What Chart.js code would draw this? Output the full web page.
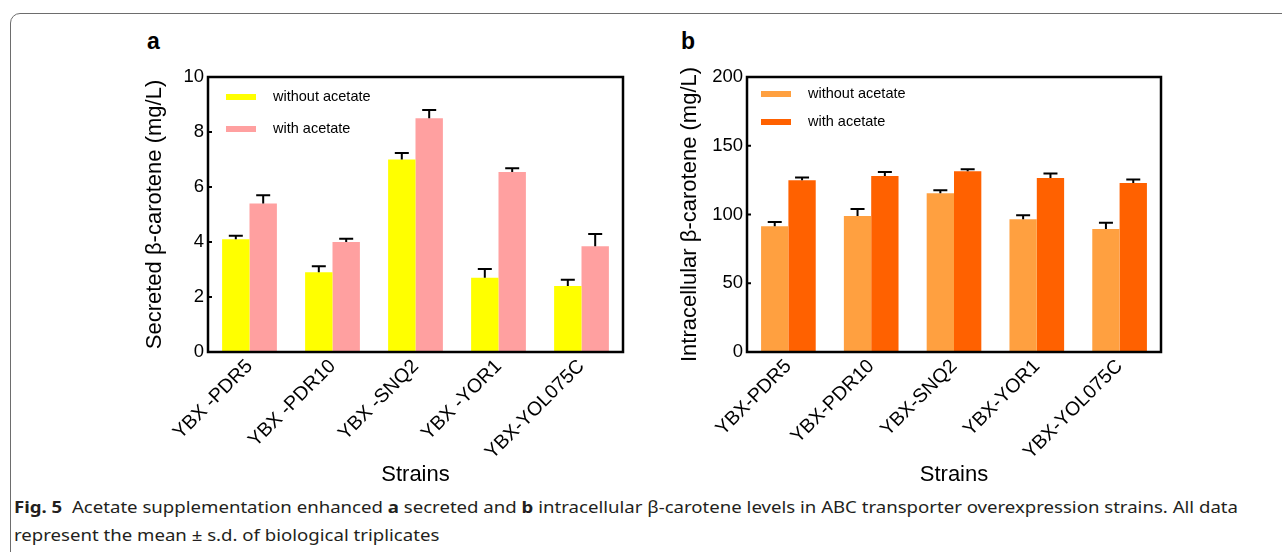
<!DOCTYPE html>
<html>
<head>
<meta charset="utf-8">
<script src="https://cdn.jsdelivr.net/npm/chart.js@4.4.0/dist/chart.umd.min.js"></script>
<style>
  body { margin: 0; width: 1282px; height: 552px; overflow: hidden; background: #fff; position: relative; font-family: "Liberation Sans", Arial, sans-serif; }
  .frame { position: absolute; left: 10px; top: 13px; width: 1300px; height: 600px; border: 1px solid #6d6d6d; border-radius: 10px; }
  .box { position: absolute; top: 55px; width: 510px; height: 440px; }
  .tag { position: absolute; top: 28px; font-weight: bold; font-size: 23px; color: #000; }
  .cap { position: absolute; left: 14px; font-family: "Noto Sans", sans-serif; font-size: 16px; color: #231f20; white-space: nowrap; transform-origin: 0 50%; }
</style>
</head>
<body>
<div class="frame"></div>
<div class="tag" style="left:147px">a</div>
<div class="tag" style="left:681px">b</div>
<div class="box" style="left:125px"><canvas id="chartA"></canvas></div>
<div class="box" style="left:660px"><canvas id="chartB"></canvas></div>
<div class="cap" id="cap1" style="top:496px"><b>Fig. 5</b>&nbsp; Acetate supplementation enhanced <b>a</b> secreted and <b>b</b> intracellular β-carotene levels in ABC transporter overexpression strains. All data</div>
<div class="cap" id="cap2" style="top:524px">represent the mean ± s.d. of biological triplicates</div>
<script>
const strainsA = ["YBX -PDR5", "YBX -PDR10", "YBX -SNQ2", "YBX -YOR1", "YBX-YOL075C"];
const strainsB = ["YBX-PDR5", "YBX-PDR10", "YBX-SNQ2", "YBX-YOR1", "YBX-YOL075C"];

// a: secreted beta-carotene (mg/L)
const secretedNo = [4.1, 2.9, 7.0, 2.7, 2.4];
const secretedNoErr = [0.13, 0.22, 0.24, 0.32, 0.23];
const secretedAc = [5.4, 4.0, 8.5, 6.55, 3.85];
const secretedAcErr = [0.3, 0.12, 0.3, 0.13, 0.44];

// b: intracellular beta-carotene (mg/L)
const intraNo = [91.5, 99, 115.5, 96.5, 89.5];
const intraNoErr = [3, 5, 2.2, 3, 4.5];
const intraAc = [125, 128, 131.5, 126.5, 123];
const intraAcErr = [2, 3, 1.5, 3.4, 2.4];

const font = "'Liberation Sans', Arial, sans-serif";

// error bars, boxed frame, tiny inner ticks and the inset legend
const decor = {
  id: "decor",
  afterDatasetsDraw(chart, args, opts) {
    const ctx = chart.ctx;
    const area = chart.chartArea;
    const y = chart.scales.y;
    ctx.save();
    ctx.strokeStyle = "#000";
    ctx.lineWidth = 2;
    chart.data.datasets.forEach((ds, i) => {
      chart.getDatasetMeta(i).data.forEach((bar, j) => {
        const top = y.getPixelForValue(ds.data[j] + ds.err[j]);
        ctx.beginPath();
        ctx.moveTo(bar.x, bar.y);
        ctx.lineTo(bar.x, top);
        ctx.moveTo(bar.x - 7, top);
        ctx.lineTo(bar.x + 7, top);
        ctx.stroke();
      });
    });

    ctx.lineWidth = 2.5;
    ctx.strokeRect(area.left, area.top, area.right - area.left, area.bottom - area.top);
    ctx.lineWidth = 2;
    y.ticks.forEach(t => {
      const py = y.getPixelForValue(t.value);
      ctx.beginPath();
      ctx.moveTo(area.left, py);
      ctx.lineTo(area.left + 4, py);
      ctx.stroke();
    });

    ctx.font = "14.5px " + font;
    ctx.textBaseline = "middle";
    chart.data.datasets.forEach((ds, i) => {
      const sy = area.top + opts.top + i * opts.gap;
      ctx.fillStyle = ds.backgroundColor;
      ctx.fillRect(area.left + opts.left, sy, 30, 6);
      ctx.fillStyle = "#000";
      ctx.fillText(ds.label, area.left + opts.left + 47, sy + 3);
    });
    ctx.restore();
  }
};

function makeChart(id, labels, no, noErr, ac, acErr, colors, yMax, yStep, yTitle, yWidth, layout, legend) {
  return new Chart(document.getElementById(id), {
    type: "bar",
    data: {
      labels: labels,
      datasets: [
        { label: "without acetate", data: no, err: noErr, backgroundColor: colors[0] },
        { label: "with acetate", data: ac, err: acErr, backgroundColor: colors[1] }
      ]
    },
    options: {
      responsive: true,
      maintainAspectRatio: false,
      animation: false,
      layout: { padding: layout },
      categoryPercentage: 0.66,
      barPercentage: 1.0,
      plugins: {
        legend: { display: false },
        tooltip: { enabled: false },
        decor: legend
      },
      scales: {
        x: {
          grid: { display: false, drawTicks: false, tickLength: 0 },
          border: { display: false },
          ticks: { color: "#000", font: { family: font, size: 19.5 }, minRotation: 45, maxRotation: 45, padding: 3 },
          title: { display: true, text: "Strains", color: "#000", font: { family: font, size: 22 }, padding: { top: 0, bottom: 7 } },
          afterFit(scale) { scale.height = 143; }
        },
        y: {
          min: 0,
          max: yMax,
          grid: { display: false, drawTicks: false, tickLength: 0 },
          border: { display: false },
          ticks: { stepSize: yStep, color: "#000", font: { family: font, size: 18.5 }, padding: 4 },
          title: { display: true, text: yTitle, color: "#000", font: { family: font, size: 22 }, padding: { top: 17, bottom: 0 } },
          afterFit(scale) { scale.width = yWidth; }
        }
      }
    },
    plugins: [decor]
  });
}

makeChart("chartA", strainsA, secretedNo, secretedNoErr, secretedAc, secretedAcErr,
  ["#ffff00", "#ffa0a0"], 10, 2, "Secreted β-carotene (mg/L)", 83,
  { top: 22, right: 12, left: 0, bottom: 0 }, { left: 18, top: 17, gap: 32 });

makeChart("chartB", strainsB, intraNo, intraNoErr, intraAc, intraAcErr,
  ["#ffa040", "#ff6100"], 200, 50, "Intracellular β-carotene (mg/L)", 87,
  { top: 22, right: 9, left: 0, bottom: 0 }, { left: 14, top: 14, gap: 28 });

// squeeze the caption to the width of the printed one
const cap1 = document.getElementById("cap1");
const cap2 = document.getElementById("cap2");
const k = 1224 / cap1.getBoundingClientRect().width;
cap1.style.transform = "scaleX(" + k + ")";
cap2.style.transform = "scaleX(" + k + ")";
</script>
</body>
</html>
